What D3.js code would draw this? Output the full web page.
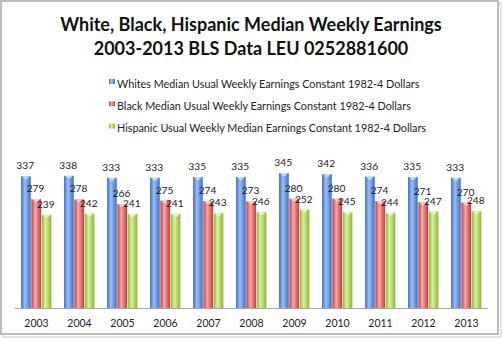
<!DOCTYPE html>
<html>
<head>
<meta charset="utf-8">
<script src="https://cdn.jsdelivr.net/npm/d3@7"></script>
<style>
  body { margin: 0; background: #fff; }
  svg { display: block; }
</style>
</head>
<body>
<script>
const width = 502
const height = 338

const years = ['2003', '2004', '2005', '2006', '2007', '2008', '2009', '2010', '2011', '2012', '2013']
const whites = [337, 338, 333, 333, 335, 335, 345, 342, 336, 335, 333]
const black = [279, 278, 266, 275, 274, 273, 280, 280, 274, 271, 270]
const hispanic = [239, 242, 241, 241, 243, 246, 252, 245, 244, 247, 248]
const seriesNames = [
  'Whites Median Usual Weekly Earnings Constant 1982-4 Dollars',
  'Black Median Usual Weekly Earnings Constant 1982-4 Dollars',
  'Hispanic Usual Weekly Median Earnings Constant 1982-4 Dollars'
]
const titleLines = [
  'White, Black, Hispanic Median Weekly Earnings',
  '2003-2013 BLS Data LEU 0252881600'
]

// edge / centre / cap colours for the cylinder look
const palette = [
  { edge: '#3b6fc6', mid: '#9dbff2', cap: '#c9dcf8' },
  { edge: '#c53c3c', mid: '#f4a8a8', cap: '#f8d0d0' },
  { edge: '#8bb63a', mid: '#d8f09a', cap: '#e8f6c6' }
]

const font = 'Lato, "Open Sans", sans-serif'

const svg = d3.select('body')
  .append('svg')
  .attr('width', width)
  .attr('height', height)

// frame with a soft shadow
svg.append('rect')
  .attr('x', 3).attr('y', 3)
  .attr('width', 498).attr('height', 334)
  .attr('fill', 'none')
  .attr('stroke', '#e4e4e4')
  .attr('stroke-width', 2)
svg.append('rect')
  .attr('x', 1).attr('y', 1)
  .attr('width', 497).attr('height', 333)
  .attr('fill', '#fff')
  .attr('stroke', '#bcbcbc')
  .attr('stroke-width', 2)

const defs = svg.append('defs')
palette.forEach(function (p, i) {
  const g = defs.append('linearGradient')
    .attr('id', 'bar' + i)
    .attr('x1', '0%').attr('x2', '100%')
    .attr('y1', '0%').attr('y2', '0%')
  g.append('stop').attr('offset', '0%').attr('stop-color', p.edge)
  g.append('stop').attr('offset', '40%').attr('stop-color', p.mid)
  g.append('stop').attr('offset', '100%').attr('stop-color', p.edge)
})

// title
svg.append('text')
  .selectAll('tspan')
  .data(titleLines)
  .enter()
  .append('tspan')
  .attr('x', 251)
  .attr('y', function (d, i) { return 31 + i * 24 })
  .attr('text-anchor', 'middle')
  .attr('font-family', font)
  .attr('font-weight', 'bold')
  .attr('font-size', '18px')
  .attr('fill', '#111')
  .text(function (d) { return d })

// legend
const legend = svg.selectAll('.legend')
  .data(seriesNames)
  .enter()
  .append('g')
  .attr('class', 'legend')
  .attr('transform', function (d, i) { return 'translate(109,' + (84 + i * 22.3) + ')' })
legend.append('rect')
  .attr('x', 0).attr('y', -5)
  .attr('width', 6).attr('height', 5)
  .attr('fill', function (d, i) { return 'url(#bar' + i + ')' })
legend.append('text')
  .attr('x', 8)
  .attr('y', 3.5)
  .attr('font-family', font)
  .attr('font-size', '10.8px')
  .attr('fill', '#222')
  .text(function (d) { return d })

// scales
const x = d3.scaleBand()
  .domain(years)
  .range([15, 488])
  .paddingInner(0)
const y = d3.scaleLinear()
  .domain([0, 400])
  .range([308.5, 151.5])
const barW = 10.3
const inner = d3.scaleBand()
  .domain([0, 1, 2])
  .range([0, barW * 3])

const series = [whites, black, hispanic]
const bars = []
series.forEach(function (vals, s) {
  vals.forEach(function (v, i) {
    bars.push({ s: s, year: years[i], value: v })
  })
})
const barX = function (d) {
  return x(d.year) + (x.bandwidth() - barW * 3) / 2 + inner(d.s)
}

const gBars = svg.append('g')
gBars.selectAll('rect')
  .data(bars)
  .enter()
  .append('rect')
  .attr('x', barX)
  .attr('y', function (d) { return y(d.value) })
  .attr('width', barW - 0.6)
  .attr('height', function (d) { return y(0) - y(d.value) })
  .attr('fill', function (d) { return 'url(#bar' + d.s + ')' })

// small lighter cap with a notch at the top of each bar
gBars.selectAll('path')
  .data(bars)
  .enter()
  .append('path')
  .attr('d', function (d) {
    const x0 = barX(d)
    const w = barW - 0.6
    const t = y(d.value)
    return 'M' + (x0 + 1) + ',' + t + 'L' + (x0 + w - 1) + ',' + t +
      'L' + (x0 + w / 2 + 1) + ',' + (t + 3) + 'L' + (x0 + w / 2 - 1) + ',' + (t + 3) + 'Z'
  })
  .attr('fill', function (d) { return palette[d.s].cap })
  .attr('opacity', 0.9)

// axis baseline
svg.append('line')
  .attr('x1', 15).attr('x2', 488)
  .attr('y1', y(0)).attr('y2', y(0))
  .attr('stroke', '#a8a8a8')
  .attr('stroke-width', 1)

// category labels
svg.selectAll('.year')
  .data(years)
  .enter()
  .append('text')
  .attr('class', 'year')
  .attr('x', function (d) { return x(d) + x.bandwidth() / 2 })
  .attr('y', 327)
  .attr('text-anchor', 'middle')
  .attr('font-family', font)
  .attr('font-size', '10.5px')
  .attr('fill', '#222')
  .text(function (d) { return d })

// value labels
svg.selectAll('.val')
  .data(bars)
  .enter()
  .append('text')
  .attr('class', 'val')
  .attr('x', function (d) { return barX(d) + barW / 2 - 1 })
  .attr('y', function (d) { return y(d.value) - 7 })
  .attr('text-anchor', 'middle')
  .attr('font-family', font)
  .attr('font-size', '10.2px')
  .attr('fill', '#222')
  .text(function (d) { return d.value })
</script>
</body>
</html>
